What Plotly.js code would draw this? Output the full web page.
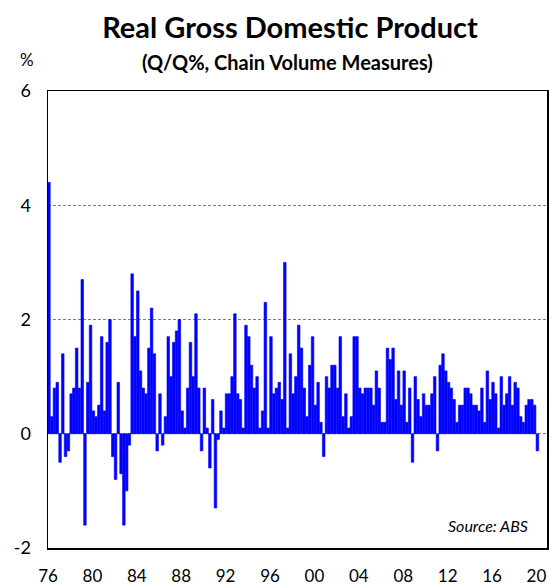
<!DOCTYPE html>
<html>
<head>
<meta charset="utf-8">
<script src="https://cdn.plot.ly/plotly-3.0.1.min.js"></script>
<style>html,body{margin:0;padding:0;background:#fff;}#chart{width:549px;height:585px;}</style>
</head>
<body>
<div id="chart"></div>
<script>
// Quarterly real GDP growth, Q/Q %, from 1976 Q1 to 2020 Q1
const startYear = 1976;
const gdpGrowth = [
  4.4, 0.3, 0.8, 0.9,   // 1976
  -0.5, 1.4, -0.4, -0.3, // 1977
  0.7, 0.8, 1.5, 0.8,   // 1978
  2.7, -1.6, 0.9, 1.9,  // 1979
  0.4, 0.3, 0.5, 1.7,   // 1980
  0.4, 1.6, 2.0, -0.4,  // 1981
  -0.8, 0.9, -0.7, -1.6, // 1982
  -1.0, -0.2, 2.8, 1.7, // 1983
  2.5, 1.1, 0.8, 0.7,   // 1984
  1.5, 2.2, 1.4, -0.3,  // 1985
  0.7, -0.2, 0.3, 1.7,  // 1986
  1.0, 1.6, 1.8, 2.0,   // 1987
  0.4, 0.1, 0.8, 1.6,   // 1988
  1.0, 2.1, 0.8, -0.3,  // 1989
  0.8, 0.1, -0.6, 0.6,  // 1990
  -1.3, -0.1, 0.4, 0.1, // 1991
  0.7, 0.7, 1.0, 2.1,   // 1992
  0.7, 0.6, 0.1, 1.9,   // 1993
  1.7, 1.2, 0.8, 1.0,   // 1994
  0.1, 0.4, 2.3, 0.1,   // 1995
  1.7, 0.7, 0.8, 0.9,   // 1996
  0.6, 3.0, 0.1, 1.4,   // 1997
  0.7, 1.0, 1.9, 1.5,   // 1998
  0.8, 0.3, 1.2, 1.7,   // 1999
  0.5, 0.9, 0.2, -0.4,  // 2000
  1.0, 0.8, 1.2, 1.2,   // 2001
  0.8, 1.7, 0.3, 0.7,   // 2002
  0.1, 0.3, 1.7, 1.7,   // 2003
  0.8, 0.7, 0.8, 0.8,   // 2004
  0.8, 0.5, 1.1, 0.8,   // 2005
  0.2, 0.2, 1.5, 1.3,   // 2006
  1.5, 0.6, 1.1, 0.5,   // 2007
  1.1, 0.2, 0.8, -0.5,  // 2008
  1.0, 0.6, 0.3, 0.7,   // 2009
  0.5, 0.5, 0.7, 1.0,   // 2010
  -0.3, 1.2, 1.4, 1.1,  // 2011
  0.9, 0.8, 0.6, 0.2,   // 2012
  0.5, 0.5, 0.8, 0.8,   // 2013
  0.7, 0.5, 0.5, 0.4,   // 2014
  0.8, 0.2, 1.1, 0.6,   // 2015
  0.9, 0.7, 0.1, 1.0,   // 2016
  0.5, 0.7, 1.0, 0.5,   // 2017
  0.9, 0.8, 0.3, 0.2,   // 2018
  0.5, 0.6, 0.6, 0.5,   // 2019
  -0.3                  // 2020
];
const yTicks = [-2, 0, 2, 4, 6];
const yTickText = ['-2', '0', '2', '4', '6'];

// quarter dates (mid-quarter month)
const quarterDates = gdpGrowth.map((v, i) => {
  const yr = startYear + Math.floor(i / 4);
  const m = (i % 4) * 3 + 2;
  return yr + '-' + String(m).padStart(2, '0') + '-01';
});

const FONT = 'Lato, "Liberation Sans", Arial, sans-serif';
const xRange = ['1976-01-01', '2020-12-13'];

const trace = {
  type: 'bar',
  x: quarterDates,
  y: gdpGrowth,
  marker: {color: '#0000FF', line: {width: 0.6, color: '#0000FF'}},
  hoverinfo: 'x+y'
};

const layout = {
  width: 549, height: 585,
  margin: {l: 48, r: 2, t: 91, b: 37, pad: 0},
  paper_bgcolor: '#ffffff',
  plot_bgcolor: '#ffffff',
  showlegend: false,
  bargap: 0.05,
  font: {family: FONT, color: '#000000'},
  title: {
    text: '<b>Real Gross Domestic Product</b>',
    font: {family: FONT, size: 29, color: '#000000'},
    x: (290 - 48) / 499, xanchor: 'center', xref: 'paper',
    y: 1 - 28 / 585, yanchor: 'middle', yref: 'container'
  },
  xaxis: {
    type: 'date',
    range: xRange,
    showgrid: false,
    zeroline: false,
    showline: true, mirror: true, linecolor: '#000000', linewidth: 1.5,
    ticks: '',
    tick0: '1976-01-01', dtick: 'M48',
    tickformat: '%y',
    tickfont: {family: FONT, size: 17, color: '#000000'},
    ticklabelstandoff: 12,
    fixedrange: true
  },
  xaxis2: {
    type: 'date',
    overlaying: 'x',
    anchor: 'free',
    position: 0.25,
    range: xRange,
    showgrid: false,
    zeroline: false,
    showline: true, linecolor: '#000000', linewidth: 1.5,
    ticks: 'inside', ticklen: 7, tickwidth: 1.2, tickcolor: '#000000',
    tick0: '1980-01-01', dtick: 'M48',
    showticklabels: false,
    fixedrange: true
  },
  yaxis: {
    range: [-2, 6],
    tickvals: yTicks,
    ticktext: yTickText,
    showgrid: true,
    gridcolor: '#7f7f7f', gridwidth: 1, griddash: '3px,2px',
    zeroline: false,
    showline: true, mirror: true, linecolor: '#000000', linewidth: 1.5,
    ticks: '',
    tickfont: {family: FONT, size: 18, color: '#000000'},
    ticklabelstandoff: 12,
    fixedrange: true
  },
  annotations: [
    {
      text: '<b>(Q/Q%, Chain Volume Measures)</b>',
      xref: 'paper', yref: 'paper',
      x: (287 - 48) / 499, xanchor: 'center',
      y: 1, yanchor: 'middle',
      yshift: 91 - 62,
      showarrow: false,
      font: {family: FONT, size: 20, color: '#000000'}
    },
    {
      text: '%',
      xref: 'paper', yref: 'paper',
      x: 0, xanchor: 'center', xshift: 27 - 48,
      y: 1, yanchor: 'middle', yshift: 91 - 59,
      showarrow: false,
      font: {family: FONT, size: 17, color: '#000000'}
    },
    {
      text: '<i>Source: ABS</i>',
      xref: 'paper', yref: 'paper',
      x: 1, xanchor: 'right', xshift: -17,
      y: 0, yanchor: 'middle', yshift: 548.5 - 526,
      showarrow: false,
      font: {family: FONT, size: 16, color: '#000000'}
    }
  ]
};

Plotly.newPlot('chart', [trace], layout, {displayModeBar: false, staticPlot: true});
</script>
</body>
</html>
